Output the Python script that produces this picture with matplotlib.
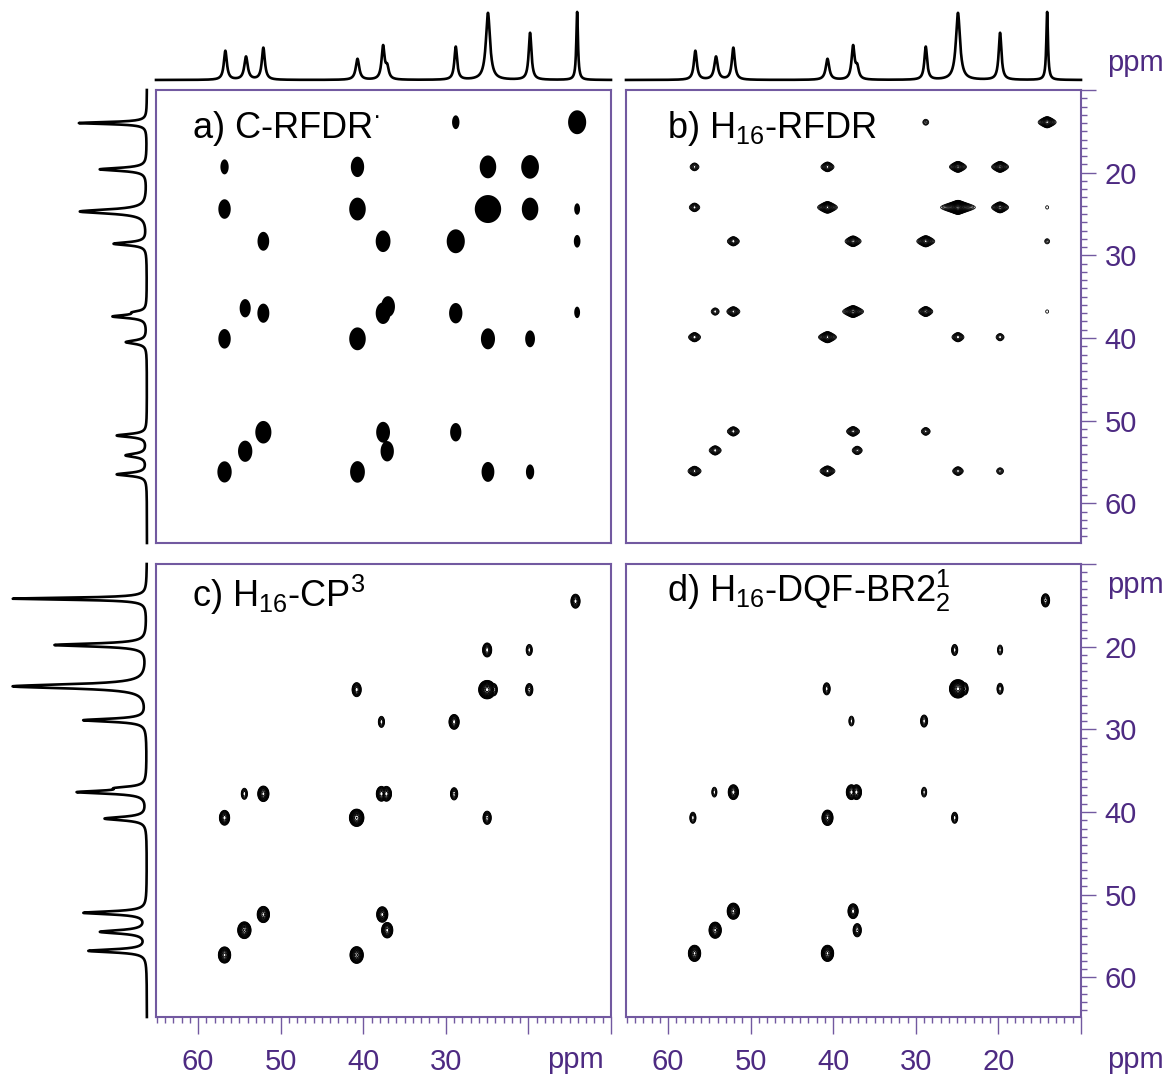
import numpy as np
import matplotlib
matplotlib.use('Agg')
import matplotlib.pyplot as plt
from matplotlib.ticker import MultipleLocator, FuncFormatter

plt.rcParams['font.family'] = ['Liberation Sans', 'DejaVu Sans']
plt.rcParams['mathtext.fontset'] = 'custom'
plt.rcParams['mathtext.rm'] = 'Liberation Sans'
plt.rcParams['mathtext.it'] = 'Liberation Sans:italic'
plt.rcParams['mathtext.bf'] = 'Liberation Sans:bold'

# ---------------- 1D projections ----------------
top_ppm = [56.7, 54.2, 52.1, 40.7, 37.6, 37.1, 28.8, 24.9, 19.8, 14.1]
top_height = [29, 23, 32, 21, 33, 11, 33, 67, 47, 68]
top_hwhm = [0.22, 0.25, 0.22, 0.25, 0.22, 0.22, 0.2, 0.3, 0.2, 0.12]

left_a_ppm = [14.0, 19.6, 24.7, 28.6, 37.4, 36.9, 40.5, 51.8, 54.2, 56.5]
left_a_height = [68, 47, 67, 33, 33, 10, 21, 30, 21, 30]
left_c_ppm = [14.2, 19.8, 24.8, 28.9, 37.6, 37.1, 40.8, 52.2, 54.5, 56.8]
left_c_height = [134, 92, 134, 63, 67, 22, 42, 63, 46, 58]
left_hwhm = [0.15, 0.22, 0.3, 0.22, 0.22, 0.2, 0.25, 0.22, 0.25, 0.22]

# ---------------- 2D cross peaks (F2 = x, F1 = y, intensity) ----------------
a_x = [28.8, 14.1,
       56.8, 40.7, 24.9, 19.8,
       56.8, 40.7, 24.9, 19.8, 14.1,
       52.1, 37.6, 28.8, 14.1,
       54.3, 52.1, 37.6, 37.0, 28.8, 14.1,
       56.8, 40.7, 24.9, 19.8,
       52.1, 37.6, 28.8,
       54.3, 37.1,
       56.8, 40.7, 24.9, 19.8]
a_y = [13.9, 13.9,
       19.3, 19.3, 19.3, 19.3,
       24.4, 24.4, 24.4, 24.4, 24.4,
       28.3, 28.3, 28.3, 28.3,
       36.4, 37.0, 37.0, 36.2, 37.0, 36.9,
       40.1, 40.1, 40.1, 40.1,
       51.4, 51.4, 51.4,
       53.7, 53.7,
       56.2, 56.2, 56.2, 56.2]
a_int = [1.8, 5.8,
         2.0, 3.6, 5.0, 5.6,
         3.25, 5.0, 11.2, 5.0, 1.5,
         3.0, 4.2, 5.8, 1.64,
         2.8, 3.1, 4.2, 3.8, 3.6, 1.5,
         3.25, 5.0, 3.9, 2.4,
         4.8, 3.8, 2.85,
         4.0, 3.6,
         4.0, 4.2, 3.4, 2.0]

b_x = [28.8, 14.1,
       56.8, 40.7, 24.9, 19.8,
       56.8, 40.7, 24.9, 19.8, 14.1,
       52.1, 37.6, 28.8, 14.1,
       54.3, 52.1, 37.6, 28.8, 14.1,
       56.8, 40.7, 24.9, 19.8,
       52.1, 37.6, 28.8,
       54.3, 37.1,
       56.8, 40.7, 24.9, 19.8]
b_y = [13.9, 13.9,
       19.3, 19.3, 19.3, 19.3,
       24.2, 24.2, 24.2, 24.2, 24.2,
       28.3, 28.3, 28.3, 28.3,
       36.8, 36.8, 36.8, 36.8, 36.8,
       39.9, 39.9, 39.9, 39.9,
       51.3, 51.3, 51.3,
       53.6, 53.6,
       56.1, 56.1, 56.1, 56.1]
b_int = [1.8, 8.4,
         2.8, 4.9, 7.6, 7.6,
         3.5, 10.0, 28.6, 7.6, 1.2,
         4.3, 6.9, 8.4, 1.56,
         2.45, 4.9, 11.0, 5.5, 1.2,
         4.3, 8.4, 4.3, 2.45,
         4.3, 4.9, 2.8,
         4.3, 3.3,
         4.9, 6.1, 3.6, 2.1]

c_x = [14.3,
       25.0, 19.9,
       40.8, 25.0, 24.2, 19.9,
       37.8, 29.0,
       54.4, 52.1, 37.8, 37.2, 29.0,
       56.8, 40.8, 25.0,
       52.1, 37.7,
       54.4, 37.1,
       56.8, 40.8]
c_y = [14.5,
       20.4, 20.4,
       25.2, 25.2, 25.2, 25.2,
       29.1, 29.1,
       37.8, 37.8, 37.8, 37.8, 37.8,
       40.7, 40.7, 40.7,
       52.4, 52.4,
       54.3, 54.3,
       57.3, 57.3]
c_int = [4.2,
         4.2, 2.44,
         4.2, 12.0, 3.0, 3.0,
         2.44, 5.0,
         2.44, 5.8, 5.0, 5.0, 3.0,
         5.0, 9.0, 3.6,
         6.8, 5.8,
         7.8, 5.8,
         6.8, 7.8]

d_x = [14.3,
       25.3, 19.8,
       40.8, 24.9, 24.1, 19.8,
       37.8, 29.0,
       54.4, 52.1, 37.8, 37.2, 29.0,
       57.0, 40.7, 25.3,
       52.1, 37.6,
       54.3, 37.1,
       56.8, 40.7]
d_y = [14.4,
       20.4, 20.4,
       25.1, 25.1, 25.1, 25.1,
       29.0, 29.0,
       37.6, 37.6, 37.6, 37.6, 37.6,
       40.7, 40.7, 40.7,
       52.0, 52.0,
       54.3, 54.3,
       57.1, 57.1]
d_int = [3.6,
         2.44, 2.0,
         2.9, 12.0, 3.0, 2.44,
         2.0, 2.9,
         2.0, 5.0, 5.0, 5.0, 2.0,
         2.44, 5.7, 2.44,
         6.8, 5.0,
         6.8, 3.6,
         6.8, 6.8]

titles = ['a) C-RFDR$^{\u00b7}$', r'b) H$_{16}$-RFDR',
          r'c) H$_{16}$-CP$^{3}$', r'd) H$_{16}$-DQF-BR2$_{2}^{1}$']

SPINE = '#7259a0'
TXT = '#4d2a82'

W, H = 1168, 1077
fig = plt.figure(figsize=(W / 100, H / 100), dpi=100)


def px_axes(x0, y0, x1, y1):
    return fig.add_axes([x0 / W, 1 - y1 / H, (x1 - x0) / W, (y1 - y0) / H])


grid_x = np.arange(9.8, 65.3, 0.035)
grid_y = np.arange(9.8, 65.3, 0.035)


def spec2d_lens(xs, ys, amps, gwx, sy):
    """Lorentzian (F2) x Gaussian (F1) line shape, peaks combined by maximum."""
    Z = np.zeros((len(grid_y), len(grid_x)))
    for x0, y0, a in zip(xs, ys, amps):
        lx = 1.0 / (1.0 + ((grid_x - x0) / gwx) ** 2)
        ly = np.exp(-0.5 * ((grid_y - y0) / sy) ** 2)
        np.maximum(Z, a * np.outer(ly, lx), out=Z)
    return Z


def spec2d_ellipse(xs, ys, amps, gwx, sy):
    """Elliptical peaks whose base contour follows the Lorentz/Gauss widths."""
    Z = np.zeros((len(grid_y), len(grid_x)))
    for x0, y0, a in zip(xs, ys, amps):
        rx = gwx * np.sqrt(a - 1.0)
        ry = sy * np.sqrt(2.0 * np.log(a))
        qx = ((grid_x - x0) / rx) ** 2
        qy = ((grid_y - y0) / ry) ** 2
        q = qy[:, None] + qx[None, :]
        np.maximum(Z, a * np.exp(-np.log(a) * q), out=Z)
    return Z


def spec1d(axis, pos, hts, hw):
    s = np.zeros_like(axis)
    for p, h, w in zip(pos, hts, hw):
        s += h / (1.0 + ((axis - p) / w) ** 2)
    return s


XL = (65.1, 10.0)
YL = (64.8, 10.0)

axA = px_axes(156, 90, 611, 543)
axB = px_axes(626, 90, 1081, 543)
axC = px_axes(156, 564, 611, 1017)
axD = px_axes(626, 564, 1081, 1017)

panels = [axA, axB, axC, axD]

ZA = spec2d_ellipse(a_x, a_y, a_int, 0.5, 0.77)
axA.contourf(grid_x, grid_y, ZA, levels=[1.0, 1e6], colors='black', antialiased=True)

levels = 1.2 ** np.arange(0, 20)
ZB = spec2d_lens(b_x, b_y, b_int, 0.4, 0.33)
axB.contour(grid_x, grid_y, ZB, levels=levels, colors='black', linewidths=0.6)
ZC = spec2d_ellipse(c_x, c_y, c_int, 0.31, 0.5)
axC.contour(grid_x, grid_y, ZC, levels=levels, colors='black', linewidths=0.7)
ZD = spec2d_ellipse(d_x, d_y, d_int, 0.31, 0.5)
axD.contour(grid_x, grid_y, ZD, levels=levels, colors='black', linewidths=0.7)

for ax in panels:
    ax.set_xlim(*XL)
    ax.set_ylim(*YL)
    for sp in ax.spines.values():
        sp.set_color(SPINE)
        sp.set_linewidth(1.5)
    ax.tick_params(which='both', bottom=False, top=False, left=False, right=False,
                   labelbottom=False, labelleft=False, labelright=False, labeltop=False)
    ax.xaxis.set_major_locator(MultipleLocator(10))
    ax.xaxis.set_minor_locator(MultipleLocator(1))
    ax.yaxis.set_major_locator(MultipleLocator(10))
    ax.yaxis.set_minor_locator(MultipleLocator(1))

for ax, shown in ((axC, (30, 40, 50, 60)), (axD, (20, 30, 40, 50, 60))):
    ax.tick_params(axis='x', which='both', bottom=True, labelbottom=True,
                   direction='out', color=SPINE, width=1.0)
    ax.tick_params(axis='x', which='major', length=12, pad=10,
                   labelsize=21, labelcolor=TXT)
    ax.tick_params(axis='x', which='minor', length=4)
    ax.xaxis.set_major_formatter(FuncFormatter(
        lambda v, p, s=shown: '%d' % round(v) if round(v) in s else ''))

for ax in (axB, axD):
    ax.tick_params(axis='y', which='both', right=True, labelright=True,
                   direction='out', color=SPINE, width=1.0)
    ax.tick_params(axis='y', which='major', length=11, pad=6,
                   labelsize=21, labelcolor=TXT)
    ax.tick_params(axis='y', which='minor', length=4)
    ax.yaxis.set_major_formatter(FuncFormatter(
        lambda v, p: '%d' % round(v) if 20 <= round(v) <= 60 else ''))

# titles
title_pos = [(0.079, 0.894), (0.090, 0.894), (0.079, 0.905), (0.090, 0.916)]
for ax, t, (tx, ty) in zip(panels, titles, title_pos):
    ax.text(tx, ty, t, transform=ax.transAxes, fontsize=26, color='black',
            ha='left', va='baseline')

# ppm labels
for (px, py) in [(575, 1060), (1135, 1060), (1135, 63), (1135, 585)]:
    fig.text(px / W, 1 - py / H, 'ppm', fontsize=21, color=TXT, ha='center', va='center')

# top projections
ppm1d = np.linspace(65.1, 10.0, 3000)
top_spec = spec1d(ppm1d, top_ppm, top_height, top_hwhm)
for (x0, x1) in ((156, 611), (626, 1081)):
    tax = px_axes(x0, 8, x1, 80)
    tax.plot(ppm1d, top_spec, color='black', lw=1.9, clip_on=False)
    tax.set_xlim(*XL)
    tax.set_ylim(0, 72)
    tax.axis('off')

# left projections
ppmv = np.linspace(64.8, 10.0, 3000)
for (y0, y1), pos, hts, yl in (((90, 543), left_a_ppm, left_a_height, YL),
                               ((564, 1017), left_c_ppm, left_c_height, YL)):
    lax = px_axes(0, y0, 147, y1)
    sp = spec1d(ppmv, pos, hts, left_hwhm)
    lax.plot(sp, ppmv, color='black', lw=1.9, clip_on=False)
    lax.set_xlim(147, 0)
    lax.set_ylim(*yl)
    lax.axis('off')

fig.savefig('out.png', dpi=100)
